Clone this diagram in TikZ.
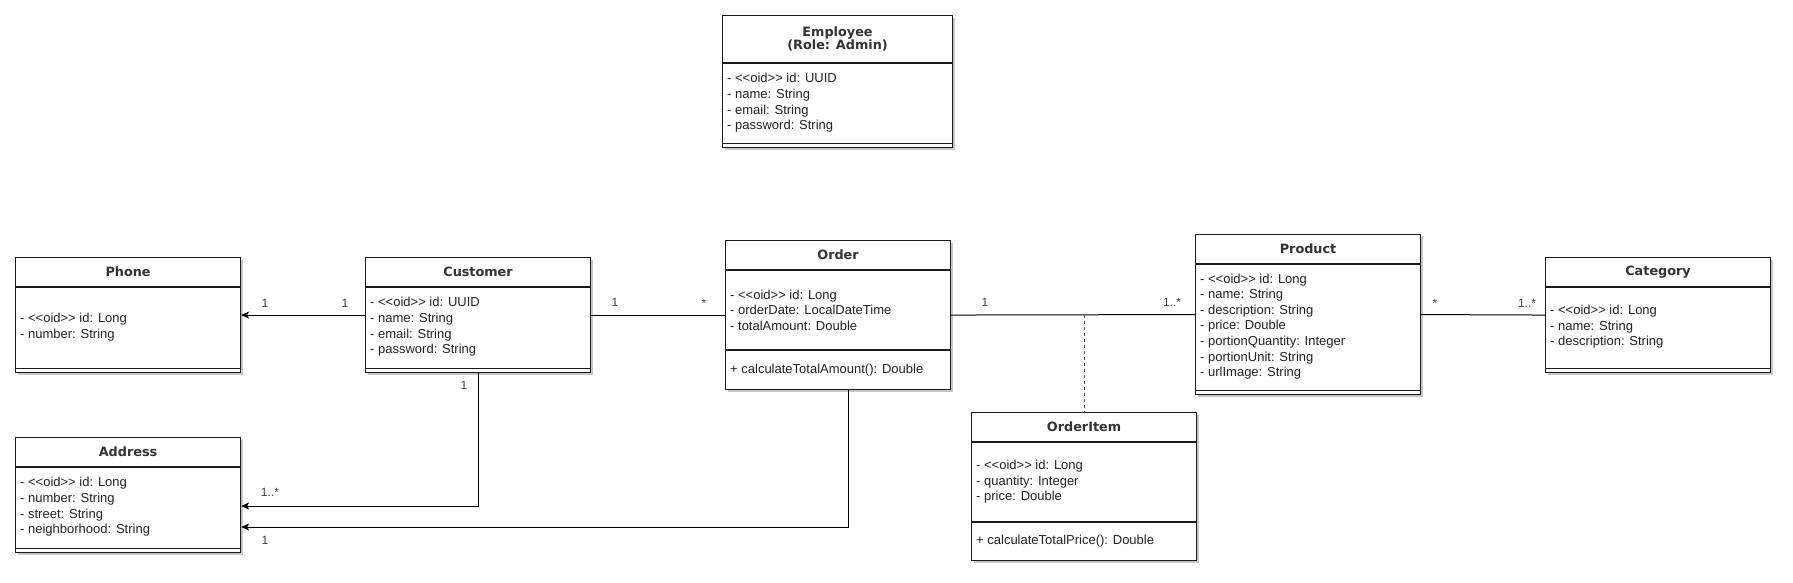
\documentclass[tikz,border=0pt]{standalone}
\usepackage{fontspec}
\setmainfont{Liberation Sans}
\newfontfamily\hdfont{DejaVu Sans}
\usetikzlibrary{arrows.meta,shadows}
\definecolor{txt}{HTML}{222222}
\definecolor{hd}{HTML}{333333}
\definecolor{edge}{HTML}{1A1A1A}
\tikzset{
  classbox/.style={draw=edge, line width=1.1pt, fill=white, inner sep=0pt, anchor=north west,
    drop shadow={shadow xshift=2pt, shadow yshift=-2.5pt, opacity=0.22, fill=black}},
  boxline/.style={draw=edge, line width=1.1pt},
  titletext/.style={font=\hdfont\bfseries\fontsize{12.8}{13}\selectfont, text=hd, align=center, inner sep=0pt},
  attrtext/.style={font=\fontsize{13}{15.6}\selectfont, text=txt, align=left, anchor=west, inner sep=0pt},
  mult/.style={font=\fontsize{12}{14}\selectfont, text=txt!85, text height=8.5pt, text depth=0pt, inner sep=0pt},
  conn/.style={draw=black, line width=1pt},
  arr/.style={-{Stealth[length=8pt,width=7pt,inset=2pt]}},
  dotline/.style={draw=black!70, line width=1.1pt, dash pattern=on 3pt off 3pt},
}
% name, x, y, w, h, header height
\newcommand\umlbox[6]{%
  \node[classbox, minimum width=#4pt, minimum height=#5pt] (#1) at (#2,#3) {};
  \draw[boxline] ([yshift=-#6pt]#1.north west) -- ([yshift=-#6pt]#1.north east);
}
\newcommand\umlend[1]{%
  \draw[boxline] ([yshift=5pt]#1.south west) -- ([yshift=5pt]#1.south east);
}
\newcommand\umlsep[2]{%
  \draw[boxline] ([yshift=-#2pt]#1.north west) -- ([yshift=-#2pt]#1.north east);
}
\begin{document}
\begin{tikzpicture}[x=1pt,y=-1pt]
\useasboundingbox (0,0) rectangle (1793,583);
\fill[white] (0,0) rectangle (1793,583);

% Employee
\umlbox{employee}{722}{15}{230}{132}{48}
\umlend{employee}
\node[titletext] (employeeT) at ([yshift=-24pt]employee.north) {Employee\\(Role: Admin)};
\node[attrtext] (employeeA) at ([xshift=5pt,yshift=-88pt]employee.north west)
  {- <{}<oid>{}> id: UUID\\- name: String\\- email: String\\- password: String};

% Phone
\umlbox{phone}{15}{257}{225}{115}{30}
\umlend{phone}
\node[titletext] (phoneT) at ([yshift=-15pt]phone.north) {Phone};
\node[attrtext] (phoneA) at ([xshift=5pt,yshift=-70pt]phone.north west)
  {- <{}<oid>{}> id: Long\\- number: String};

% Customer
\umlbox{customer}{365}{257}{225}{115}{30}
\umlend{customer}
\node[titletext] (customerT) at ([yshift=-15pt]customer.north) {Customer};
\node[attrtext] (customerA) at ([xshift=5pt,yshift=-70pt]customer.north west)
  {- <{}<oid>{}> id: UUID\\- name: String\\- email: String\\- password: String};

% Order
\umlbox{order}{725}{240}{225}{149}{30}
\umlsep{order}{110}
\node[titletext] (orderT) at ([yshift=-15pt]order.north) {Order};
\node[attrtext] (orderA) at ([xshift=5pt,yshift=-70pt]order.north west)
  {- <{}<oid>{}> id: Long\\- orderDate: LocalDateTime\\- totalAmount: Double};
\node[attrtext] (orderM) at ([xshift=5pt,yshift=-130pt]order.north west)
  {+ calculateTotalAmount(): Double};

% Product
\umlbox{product}{1195}{234}{225}{160}{30}
\umlend{product}
\node[titletext] (productT) at ([yshift=-15pt]product.north) {Product};
\node[attrtext] (productA) at ([xshift=5pt,yshift=-92.5pt]product.north west)
  {- <{}<oid>{}> id: Long\\- name: String\\- description: String\\- price: Double\\- portionQuantity: Integer\\- portionUnit: String\\- urlImage: String};

% Category
\umlbox{category}{1545}{257}{225}{115}{30}
\umlend{category}
\node[titletext] (categoryT) at ([yshift=-15pt]category.north) {Category};
\node[attrtext] (categoryA) at ([xshift=5pt,yshift=-70pt]category.north west)
  {- <{}<oid>{}> id: Long\\- name: String\\- description: String};

% Address
\umlbox{address}{15}{437}{225}{115}{30}
\umlend{address}
\node[titletext] (addressT) at ([yshift=-15pt]address.north) {Address};
\node[attrtext] (addressA) at ([xshift=5pt,yshift=-70pt]address.north west)
  {- <{}<oid>{}> id: Long\\- number: String\\- street: String\\- neighborhood: String};

% OrderItem
\umlbox{orderitem}{971}{412}{225}{148}{30}
\umlsep{orderitem}{110}
\node[titletext] (orderitemT) at ([yshift=-15pt]orderitem.north) {OrderItem};
\node[attrtext] (orderitemA) at ([xshift=5pt,yshift=-70pt]orderitem.north west)
  {- <{}<oid>{}> id: Long\\- quantity: Integer\\- price: Double};
\node[attrtext] (orderitemM) at ([xshift=5pt,yshift=-129pt]orderitem.north west)
  {+ calculateTotalPrice(): Double};

% connectors
\draw[conn, arr] (customer.west) -- (phone.east);
\draw[conn] (customer.east) -- (order.west);
\draw[conn] (order.east) -- (product.west);
\draw[conn] (product.east) -- (category.west);

\coordinate (assoc) at (orderitem.north |- order.east);
\draw[dotline] (assoc) -- (orderitem.north);

\coordinate (cbend) at (477.5,506);
\coordinate (obend) at (848,527);
\draw[conn, arr] (customer.south) |- (address.east |- cbend);
\draw[conn, arr] (obend |- order.south) |- (address.east |- obend);

% multiplicities
\node[mult] (m1) at (265,303) {1};
\node[mult] (m2) at (345,303) {1};
\node[mult] (m3) at (615,302) {1};
\node[mult] (m4) at (704,303) {*};
\node[mult] (m5) at (985,302) {1};
\node[mult] (m6) at (1172,302) {1..*};
\node[mult] (m7) at (1435,303) {*};
\node[mult] (m8) at (1527,303) {1..*};
\node[mult] (m9) at (464,385) {1};
\node[mult] (m10) at (270,492) {1..*};
\node[mult] (m11) at (265,540) {1};
\end{tikzpicture}
\end{document}
